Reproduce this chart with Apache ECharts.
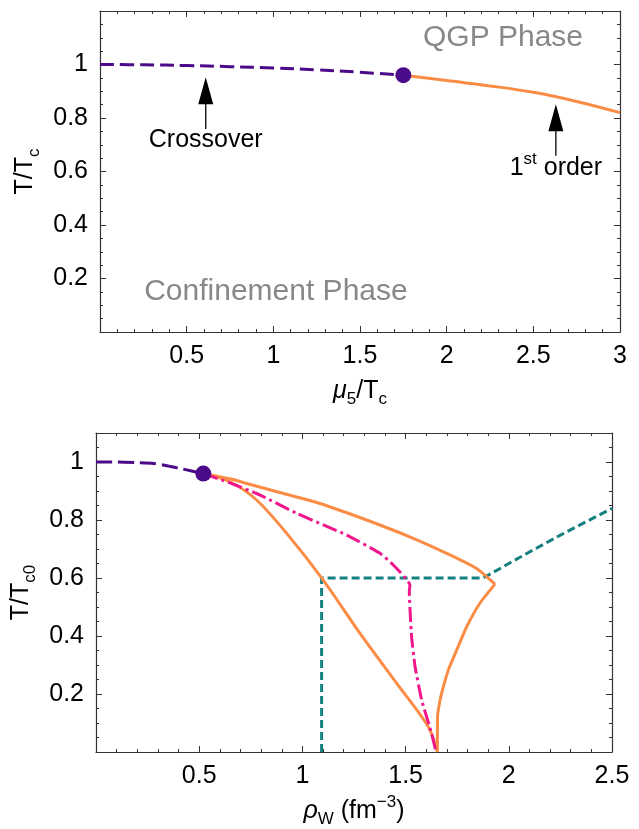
<!DOCTYPE html>
<html><head><meta charset="utf-8">
<script src="https://cdn.jsdelivr.net/npm/echarts@6/dist/echarts.min.js"></script>
<style>html,body{margin:0;padding:0;background:#fff}#c{width:639px;height:829px}</style>
</head><body><div id="c"></div>
<script>
// ---------- Top panel: mu5/Tc vs T/Tc ----------
const topCrossX = [0, 0.25, 0.5, 0.75, 1.0, 1.25, 1.5, 1.75];
const topCrossY = [1.0, 0.999, 0.996, 0.992, 0.987, 0.98, 0.971, 0.96];
const topFirstX = [1.75, 2.0, 2.25, 2.5, 2.75, 3.0];
const topFirstY = [0.96, 0.94, 0.92, 0.896, 0.862, 0.82];
const topCritical = [1.75, 0.96];
// arrows: x, tail y, tip y
const topArrowX = [0.61, 2.63];
const topArrowTail = [0.759, 0.659];
const topArrowTip = [0.952, 0.851];
// annotations
const topAnnText = ['QGP Phase', 'Confinement Phase', 'Crossover', '1{sup|st} order'];
const topAnnX = [2.325, 1.015, 0.61, 2.63];
const topAnnY = [1.099, 0.15, 0.718, 0.613];

// ---------- Bottom panel: rho_W vs T/Tc0 ----------
const botCrossX = [0, 0.1, 0.2, 0.28, 0.35, 0.42, 0.52];
const botCrossY = [1.0, 1.0, 0.998, 0.995, 0.986, 0.976, 0.96];
const botUpperX = [0.52, 0.65, 0.73, 0.9, 1.085, 1.311, 1.537, 1.699, 1.844, 1.933];
const botUpperY = [0.96, 0.942, 0.926, 0.893, 0.857, 0.8, 0.737, 0.685, 0.633, 0.579];
const botRightX = [1.933, 1.86, 1.796, 1.748, 1.707, 1.683, 1.667, 1.655, 1.654];
const botRightY = [0.579, 0.513, 0.432, 0.352, 0.283, 0.225, 0.179, 0.122, 0.0];
const botLowerX = [0.52, 0.649, 0.778, 0.924, 1.101, 1.279, 1.457, 1.61, 1.654];
const botLowerY = [0.96, 0.932, 0.869, 0.754, 0.593, 0.409, 0.237, 0.087, 0.0];
const botMagX = [0.52, 0.649, 0.795, 0.972, 1.215, 1.376, 1.44, 1.521, 1.518, 1.529, 1.546, 1.578, 1.626, 1.647];
const botMagY = [0.96, 0.928, 0.886, 0.823, 0.748, 0.685, 0.645, 0.576, 0.553, 0.398, 0.294, 0.179, 0.064, 0.0];
const botTealX = [1.093, 1.093, 1.876, 2.05, 2.25, 2.5];
const botTealY = [0.0, 0.6, 0.6, 0.67, 0.748, 0.84];
const botCritical = [0.52, 0.96];

const zip = (xs, ys) => xs.map((x, i) => [x, ys[i]]);
const FONT = '"Liberation Sans", Arial, Helvetica, sans-serif';
const AX = '#333';
const PURPLE = '#4a0a8a', ORANGE = '#fa8c46', MAGENTA = '#f0168c', TEAL = '#168080', GRAY = '#888888';

function fmtX(v) { return v <= 1e-9 ? '' : String(+v.toFixed(1)); }
function fmtY(v) { return (v <= 1e-9 || v > 1.001) ? '' : String(+v.toFixed(1)); }

function xAxes(grid, max) {
  const base = {
    type: 'value', gridIndex: grid, min: 0, max: max, interval: 0.5,
    axisLine: { show: true, onZero: false, lineStyle: { color: AX, width: 1.2 } },
    axisTick: { show: true, inside: true, length: 6, lineStyle: { color: AX } },
    minorTick: { show: true, splitNumber: 5, length: 3, lineStyle: { color: AX } },
    splitLine: { show: false }
  };
  return [
    Object.assign({}, base, { position: 'bottom',
      axisLabel: { show: true, margin: 12, fontSize: 25, color: '#000', fontFamily: FONT, formatter: fmtX } }),
    Object.assign({}, base, { position: 'top', axisLabel: { show: false } })
  ];
}
function yAxes(grid, max) {
  const base = {
    type: 'value', gridIndex: grid, min: 0, max: max, interval: 0.2,
    axisLine: { show: true, onZero: false, lineStyle: { color: AX, width: 1.2 } },
    axisTick: { show: true, inside: true, length: 6, lineStyle: { color: AX } },
    minorTick: { show: true, splitNumber: 4, length: 3, lineStyle: { color: AX } },
    splitLine: { show: false }
  };
  return [
    Object.assign({}, base, { position: 'left',
      axisLabel: { show: true, margin: 12, fontSize: 25, color: '#000', fontFamily: FONT, formatter: fmtY } }),
    Object.assign({}, base, { position: 'right', axisLabel: { show: false } })
  ];
}

const xs = xAxes(0, 3).concat(xAxes(1, 2.5));
const ys = yAxes(0, 1.2).concat(yAxes(1, 1.1));
const richBase = {
  m: { fontSize: 25, fontFamily: FONT, color: '#000', lineHeight: 34 },
  i: { fontSize: 25, fontFamily: FONT, fontStyle: 'italic', color: '#000', lineHeight: 34 },
  sub: { fontSize: 17, fontFamily: FONT, color: '#000', lineHeight: 34, verticalAlign: 'bottom' },
  sup: { fontSize: 17, fontFamily: FONT, color: '#000', lineHeight: 34, verticalAlign: 'top' }
};
// axis names
xs[0].name = '{i|μ}{sub|5}{m|/T}{sub|c}';
xs[0].nameLocation = 'middle'; xs[0].nameGap = 42;
xs[0].nameTextStyle = { rich: richBase };
xs[2].name = '{i|ρ}{sub|W}{m| (fm}{sup|−3}{m|)}';
xs[2].nameLocation = 'middle'; xs[2].nameGap = 42;
xs[2].nameTextStyle = { rich: richBase };
ys[0].name = '{m|T/T}{sub|c}';
ys[0].nameLocation = 'middle'; ys[0].nameGap = 53; ys[0].nameRotate = 90;
ys[0].nameTextStyle = { rich: richBase };
ys[2].name = '{m|T/T}{sub|c0}';
ys[2].nameLocation = 'middle'; ys[2].nameGap = 45; ys[2].nameRotate = 90;
ys[2].nameTextStyle = { rich: richBase };

function lineS(xi, yi, data, color, type, width, smooth) {
  return { type: 'line', xAxisIndex: xi, yAxisIndex: yi, data: data, showSymbol: false, symbol: 'none',
    smooth: smooth || false, silent: true, animation: false,
    lineStyle: { color: color, width: width || 3, type: type, cap: 'butt', opacity: 1 }, z: 3 };
}

const series = [];
// top panel
series.push(lineS(0, 0, zip(topCrossX, topCrossY), PURPLE, [14, 6], 3, 0.4));
series.push(lineS(0, 0, zip(topFirstX, topFirstY), ORANGE, 'solid', 3, 0.4));
topArrowX.forEach((x, k) => {
  series.push(lineS(0, 0, [[x, topArrowTail[k]], [x, topArrowTip[k] - 0.06]], '#000', 'solid', 1.3));
});
series.push({ type: 'scatter', xAxisIndex: 0, yAxisIndex: 0, silent: true, animation: false, z: 6,
  symbol: 'triangle', symbolSize: [15, 27], symbolOffset: [0, '50%'],
  itemStyle: { color: '#000', opacity: 1 },
  data: topArrowX.map((x, k) => [x, topArrowTip[k]]) });
series.push({ type: 'scatter', xAxisIndex: 0, yAxisIndex: 0, silent: true, animation: false, z: 8,
  symbol: 'circle', symbolSize: 16, itemStyle: { color: PURPLE, opacity: 1 }, data: [topCritical] });
series.push({ type: 'scatter', xAxisIndex: 0, yAxisIndex: 0, silent: true, animation: false, z: 9,
  symbolSize: 0, itemStyle: { opacity: 1 },
  data: topAnnText.map((t, k) => ({
    value: [topAnnX[k], topAnnY[k]],
    label: k < 2 ? { color: GRAY, fontSize: 30 } : { color: '#000', fontSize: 25 },
    name: t })),
  label: { show: true, position: 'inside', fontFamily: FONT, opacity: 1,
    formatter: p => p.name,
    rich: { sup: { fontSize: 17, fontFamily: FONT, color: '#000', verticalAlign: 'top', lineHeight: 34 } } } });
// bottom panel
series.push(lineS(2, 2, zip(botCrossX, botCrossY), PURPLE, [16, 6], 3, 0.3));
series.push(lineS(2, 2, zip(botTealX, botTealY), TEAL, [8, 4], 3));
series.push(lineS(2, 2, zip(botUpperX, botUpperY), ORANGE, 'solid', 3, 0.2));
series.push(lineS(2, 2, zip(botRightX, botRightY), ORANGE, 'solid', 3, 0.2));
series.push(lineS(2, 2, zip(botLowerX, botLowerY), ORANGE, 'solid', 3, 0.3));
series.push(lineS(2, 2, zip(botMagX, botMagY), MAGENTA, [15, 4, 3, 4], 3, 0.15));
series.push({ type: 'scatter', xAxisIndex: 2, yAxisIndex: 2, silent: true, animation: false, z: 8,
  symbol: 'circle', symbolSize: 16, itemStyle: { color: PURPLE, opacity: 1 }, data: [botCritical] });

const chart = echarts.init(document.getElementById('c'), null, { renderer: 'canvas' });
chart.setOption({
  animation: false,
  backgroundColor: '#fff',
  grid: [
    { left: 100, right: 19, top: 11, bottom: 497, containLabel: false },
    { left: 96, right: 27, top: 433, bottom: 77, containLabel: false }
  ],
  xAxis: xs,
  yAxis: ys,
  series: series
});
</script></body></html>
